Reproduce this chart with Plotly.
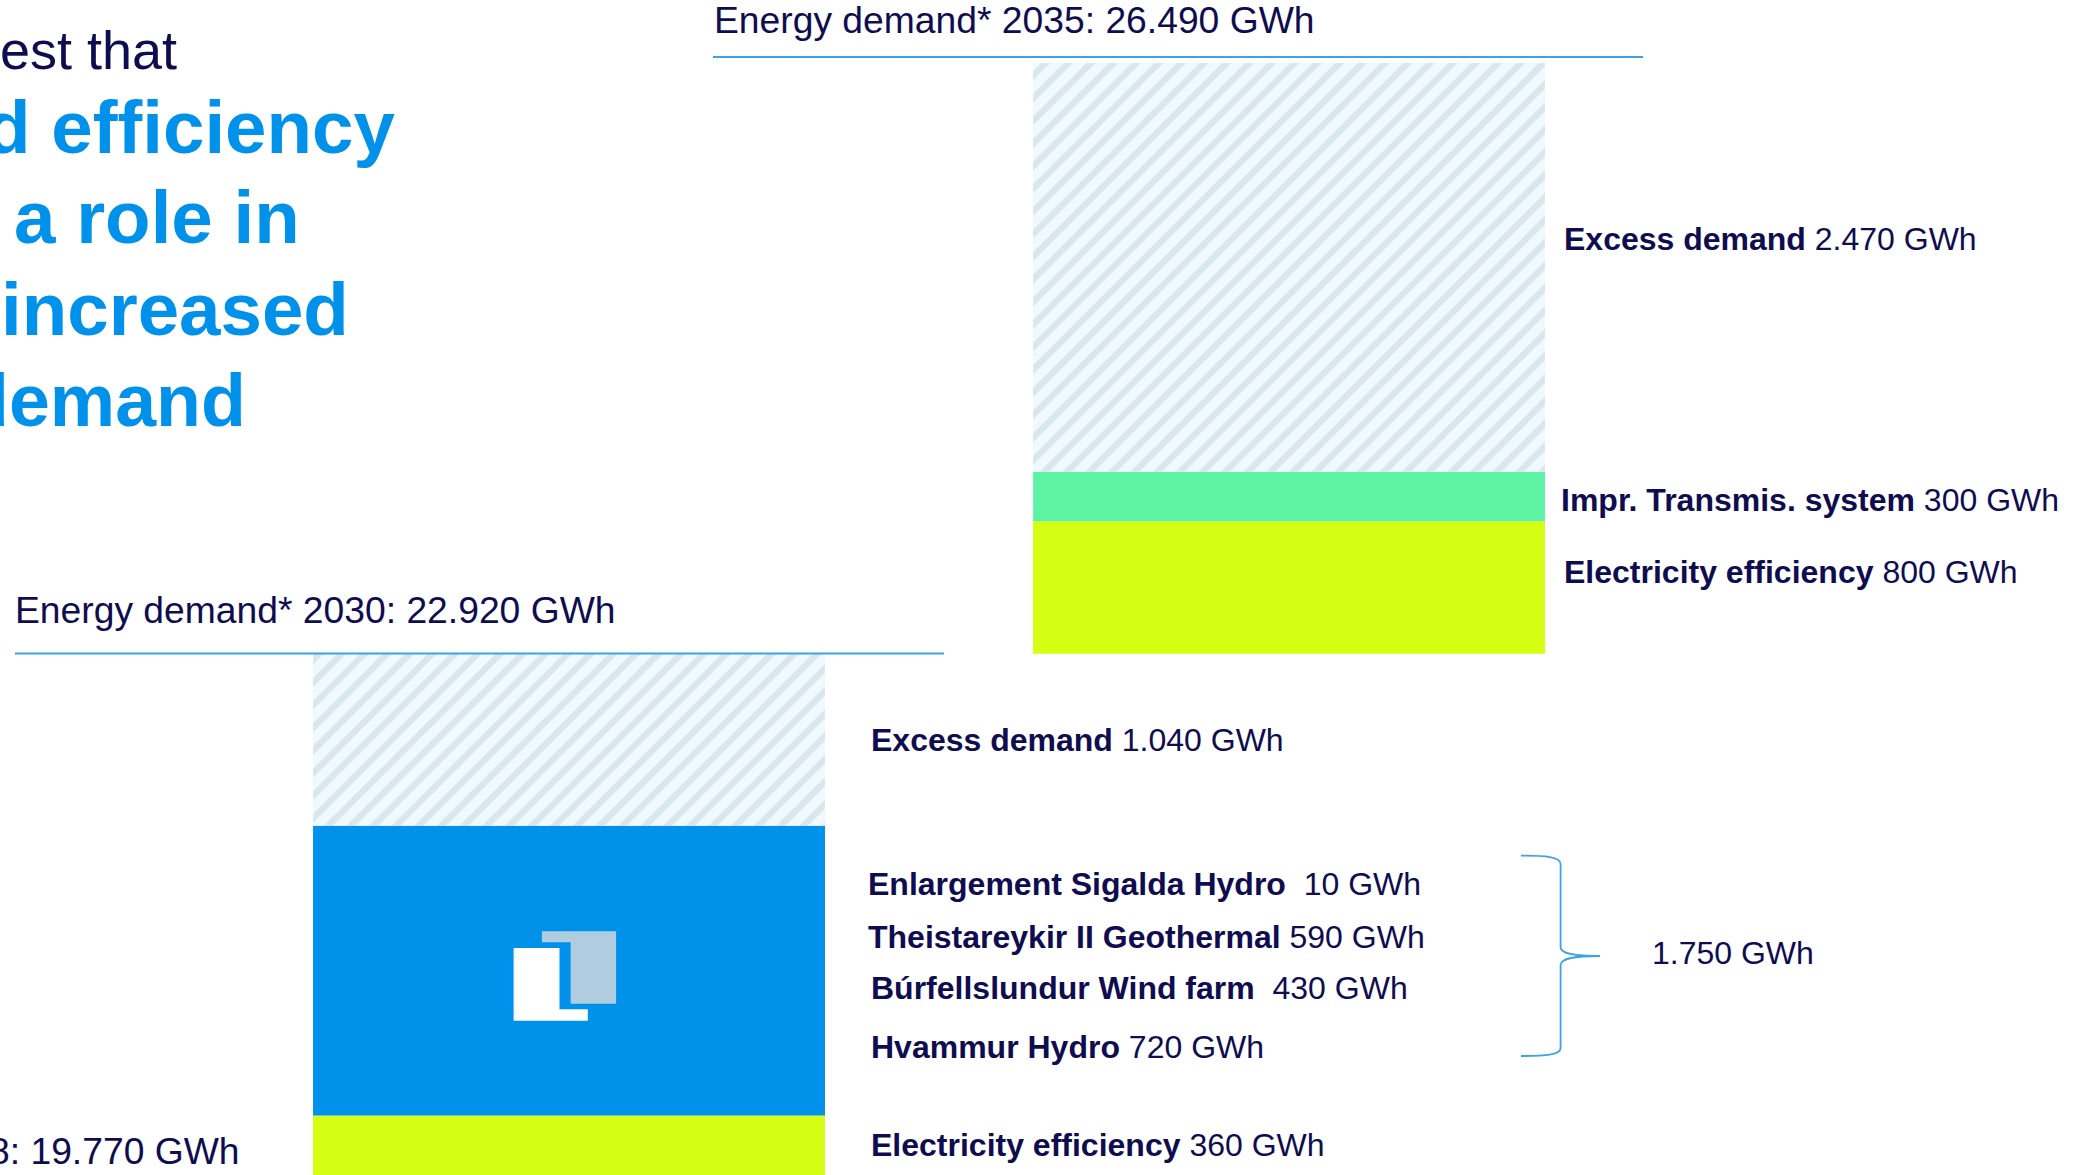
import plotly.graph_objects as go

W, H = 2088, 1175

# ---- data (GWh) ----
years = ["2030", "2035"]
demand_start = [19770, 22920]
electricity_efficiency = [360, 800]
new_power_plants = [1750, None]
transmission_system = [None, 300]
excess_demand = [1040, 2470]

NAVY = "#0f0d4f"
BLUE = "#0091ea"
LIME = "#d4ff12"
GREEN = "#5ef2a5"
LINE = "#3aa3ea"
FONT = "Liberation Sans, Helvetica, Arial, sans-serif"

title_lines = ["est that", "d efficiency", "a role in", "increased", "demand"]
header_2035 = "Energy demand* 2035: 26.490 GWh"
header_2030 = "Energy demand* 2030: 22.920 GWh"
header_2028 = "8: 19.770 GWh"
labels_2035 = [("Excess demand", "2.470 GWh"),
               ("Impr. Transmis. system", "300 GWh"),
               ("Electricity efficiency", "800 GWh")]
labels_2030 = [("Excess demand", "1.040 GWh"),
               ("Enlargement Sigalda Hydro", " 10 GWh"),
               ("Theistareykir II Geothermal", "590 GWh"),
               ("Búrfellslundur Wind farm", " 430 GWh"),
               ("Hvammur Hydro", "720 GWh"),
               ("Electricity efficiency", "360 GWh")]
bracket_total = "1.750 GWh"

# ---- stacking ----
series = [
    ("Electricity efficiency", electricity_efficiency, dict(color=LIME)),
    ("New power plants", new_power_plants, dict(color=BLUE)),
    ("Improved transmission system", transmission_system, dict(color=GREEN)),
    ("Excess demand", excess_demand,
     dict(color="#eff9fe",
          pattern=dict(shape="/", bgcolor="#eff9fe", fgcolor="#dae6ed",
                       size=16, solidity=0.4, fillmode="replace"))),
]

fig = go.Figure()
running = list(demand_start)
for name, values, marker in series:
    bases = [r if v is not None else None for r, v in zip(running, values)]
    fig.add_trace(go.Bar(x=years, y=values, base=bases, name=name,
                         marker=dict(line_width=0, **marker),
                         hoverinfo="skip", showlegend=False))
    running = [r + (v or 0) for r, v in zip(running, values)]


def px(x):
    return x / W


def py(y):
    return 1 - y / H


def label(x, y, text, size=32, color=NAVY, anchor="left"):
    fig.add_annotation(xref="paper", yref="paper", x=px(x), y=py(y), text=text,
                       showarrow=False, xanchor=anchor, yanchor="middle",
                       align=anchor, borderpad=0, borderwidth=0,
                       font=dict(family=FONT, size=size, color=color))


def shape_path(points, **kw):
    fig.add_shape(type="path", xref="paper", yref="paper", path=points, **kw)


def poly(pts):
    return "M" + " L".join(f"{px(x)},{py(y)}" for x, y in pts) + " Z"


# title fragments
label(177, 50, title_lines[0], size=54, anchor="right")
for text, xr, yc, sz in zip(title_lines[1:], [395, 299.5, 349, 246], [128, 218, 309, 400],
                            [74.5, 74.5, 74.5, 73.5]):
    label(xr, yc, f"<b>{text}</b>", size=sz, color=BLUE, anchor="right")

# headers
label(714, 20.5, header_2035, size=37.25)
label(15, 609.5, header_2030, size=37.25)
label(240, 1151, header_2028, size=37.25, anchor="right")

# header rules
for x0, x1, y in [(713, 1643, 57), (15, 944, 653.5)]:
    fig.add_shape(type="line", xref="paper", yref="paper", x0=px(x0), x1=px(x1),
                  y0=py(y), y1=py(y), line=dict(color=LINE, width=1.8), layer="above")

# segment labels
for (b, v), x, y in zip(labels_2035, [1564, 1561, 1564], [239, 500, 572]):
    label(x, y, f"<b>{b}</b> {v}")
for (b, v), x, y in zip(labels_2030, [871, 868, 868, 870.5, 870.5, 870.5],
                        [740, 884, 937, 988, 1047, 1145]):
    label(x, y, f"<b>{b}</b> {v}")
label(1652, 953, bracket_total)

# bracket
X0, XM, XT = 1521, 1560.6, 1600
pts = [f"M{px(X0)},{py(855.7)}",
       f"C{px(1545)},{py(855.7)} {px(XM)},{py(856.5)} {px(XM)},{py(864)}",
       f"L{px(XM)},{py(947)}",
       f"C{px(XM)},{py(954)} {px(1575)},{py(956)} {px(XT)},{py(956)}",
       f"C{px(1575)},{py(956)} {px(XM)},{py(958)} {px(XM)},{py(965)}",
       f"L{px(XM)},{py(1048)}",
       f"C{px(XM)},{py(1055)} {px(1545)},{py(1056)} {px(X0)},{py(1056)}"]
shape_path(" ".join(pts), line=dict(color=LINE, width=1.8), layer="above")

# logo on the blue block
shape_path(poly([(541.9, 931.3), (616.1, 931.3), (616.1, 1003.7), (570.6, 1003.7),
                 (570.6, 942.3), (541.9, 942.3)]),
           fillcolor="#b0cde0", line_width=0, layer="above")
shape_path(poly([(513.6, 948), (559.5, 948), (559.5, 1009.3), (587.8, 1009.3),
                 (587.8, 1020.7), (513.6, 1020.7)]),
           fillcolor="#ffffff", line_width=0, layer="above")

# axis ranges: 2030 bar centred on 569 px, 2035 bar on 1289 px, spacing 720 px;
# 0.16548 px per GWh with 19770 GWh on the bottom edge
fig.update_layout(
    width=W, height=H, margin=dict(l=0, r=0, t=0, b=0),
    barmode="overlay", bargap=0.289,
    paper_bgcolor="white", plot_bgcolor="white", showlegend=False,
    xaxis=dict(visible=False, type="category", categoryorder="array",
               categoryarray=years, range=[-0.7903, 2.1097], fixedrange=True),
    yaxis=dict(visible=False, range=[19770, 26870.5], fixedrange=True),
)

fig.write_html("out.html", config=dict(displayModeBar=False),
               post_script="document.body.style.margin='0';document.body.style.overflow='hidden';")
